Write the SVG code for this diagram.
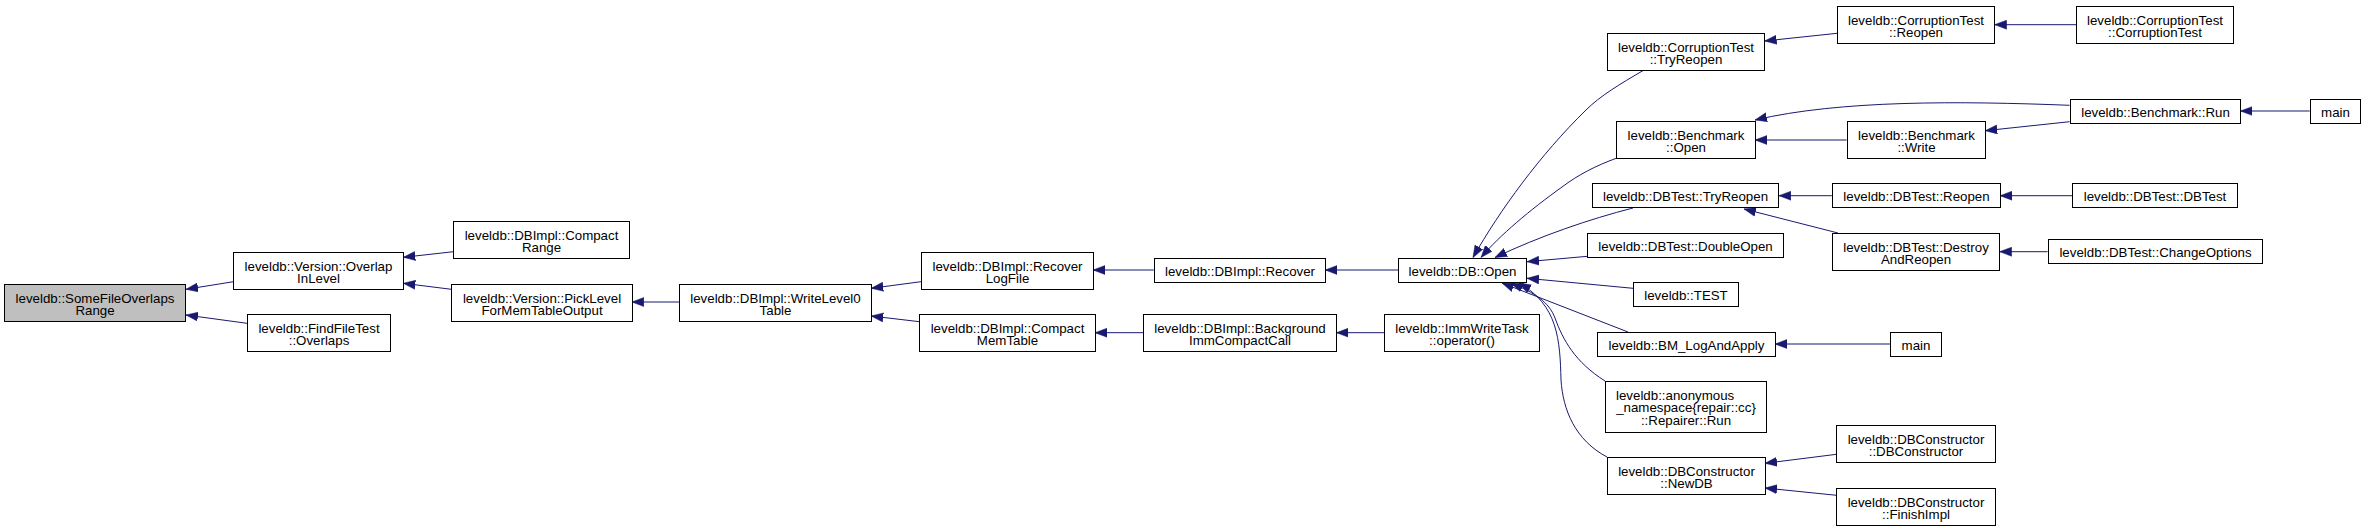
<svg xmlns="http://www.w3.org/2000/svg" width="2366" height="531" viewBox="0 0 2366 531">
<style>
.node rect{fill:#ffffff;stroke:#000000;stroke-width:1}
.node.hl rect{fill:#bfbfbf}
.node text{font-family:"Liberation Sans",Arial,Helvetica,sans-serif;font-size:13.3px;fill:#000000;text-anchor:middle}
.edges path{fill:none;stroke:#191970;stroke-width:1;marker-end:url(#ah)}
</style>
<defs>
<marker id="ah" viewBox="0 0 12 10" refX="12" refY="5" markerWidth="12" markerHeight="10" markerUnits="userSpaceOnUse" orient="auto">
<path d="M0,0.5 L12,5 L0,9.5 Z" fill="#191970" stroke="#191970" stroke-width="0.5"/>
</marker>
</defs>
<rect x="0" y="0" width="2366" height="531" fill="#ffffff"/>
<g id="edges" class="edges">
<path d="M233.5,281.7 L186,289.3"/>
<path d="M247,323.3 L186,315"/>
<path d="M453.5,251.7 L403.3,257.3"/>
<path d="M451.4,289.3 L403.3,283.3"/>
<path d="M679.3,302 L631.8,302"/>
<path d="M921,281.7 L871.2,288.3"/>
<path d="M919.5,321.7 L871.2,316"/>
<path d="M1153.8,270 L1093.1,270"/>
<path d="M1143,332.7 L1095,332.7"/>
<path d="M1398,270 L1325.2,270"/>
<path d="M1384,332.7 L1336.4,332.7"/>
<path d="M1644,70 C1620,84 1600,96 1586,110 C1540,155 1500,210 1473,257.5"/>
<path d="M1617,158 C1595,166 1578,175 1562,187 C1530,210 1500,235 1481,257.5"/>
<path d="M1633,208 C1590,219 1540,236 1495,257.5"/>
<path d="M1587.5,256.3 L1527,261.7"/>
<path d="M1633,288.3 L1527,278.3"/>
<path d="M1628,332 L1502,283"/>
<path d="M1605,381 C1575,362 1563,340 1555,318 C1549,302 1535,293 1511,283"/>
<path d="M1607,457 C1575,440 1563,410 1561,380 C1560,340 1558,305 1519,283"/>
<path d="M1837,33.3 L1764.6,41"/>
<path d="M2076,24.7 L1994.6,24.7"/>
<path d="M2069.6,105.3 C1960,101 1840,100 1755,120"/>
<path d="M2069.6,121.7 L1985.2,130.7"/>
<path d="M1846.6,140 L1755,140"/>
<path d="M2309.7,111 L2240.4,111"/>
<path d="M1831.8,195.7 L1778.9,195.7"/>
<path d="M1838,233 L1744,209"/>
<path d="M2072.5,195.7 L2000,195.7"/>
<path d="M2047.6,251.7 L1999.6,251.7"/>
<path d="M1890,344 L1775,344"/>
<path d="M1836.5,454.3 L1765,463.3"/>
<path d="M1836.5,495.3 L1765,488"/>
</g>
<g id="n1" class="node hl"><rect x="4.5" y="284.5" width="181" height="37"/><text x="95" y="302.5">leveldb::SomeFileOverlaps</text><text x="95" y="315">Range</text></g>
<g id="n2" class="node"><rect x="233.5" y="252.5" width="170" height="37"/><text x="318.5" y="270.5">leveldb::Version::Overlap</text><text x="318.5" y="283">InLevel</text></g>
<g id="n3" class="node"><rect x="247.5" y="314.5" width="143" height="37"/><text x="319" y="332.5">leveldb::FindFileTest</text><text x="319" y="345">::Overlaps</text></g>
<g id="n4" class="node"><rect x="453.5" y="221.5" width="176" height="37"/><text x="541.5" y="239.5">leveldb::DBImpl::Compact</text><text x="541.5" y="252">Range</text></g>
<g id="n5" class="node"><rect x="451.5" y="284.5" width="181" height="37"/><text x="542" y="302.5">leveldb::Version::PickLevel</text><text x="542" y="315">ForMemTableOutput</text></g>
<g id="n6" class="node"><rect x="679.5" y="284.5" width="192" height="37"/><text x="775.5" y="302.5">leveldb::DBImpl::WriteLevel0</text><text x="775.5" y="315">Table</text></g>
<g id="n7" class="node"><rect x="921.5" y="252.5" width="172" height="37"/><text x="1007.5" y="270.5">leveldb::DBImpl::Recover</text><text x="1007.5" y="283">LogFile</text></g>
<g id="n8" class="node"><rect x="919.5" y="314.5" width="176" height="37"/><text x="1007.5" y="332.5">leveldb::DBImpl::Compact</text><text x="1007.5" y="345">MemTable</text></g>
<g id="n9" class="node"><rect x="1154.5" y="258.5" width="171" height="24"/><text x="1240" y="275.5">leveldb::DBImpl::Recover</text></g>
<g id="n10" class="node"><rect x="1143.5" y="314.5" width="193" height="37"/><text x="1240" y="332.5">leveldb::DBImpl::Background</text><text x="1240" y="345">ImmCompactCall</text></g>
<g id="n11" class="node"><rect x="1398.5" y="258.5" width="128" height="24"/><text x="1462.5" y="275.5">leveldb::DB::Open</text></g>
<g id="n12" class="node"><rect x="1384.5" y="314.5" width="155" height="37"/><text x="1462" y="332.5">leveldb::ImmWriteTask</text><text x="1462" y="345">::operator()</text></g>
<g id="n13" class="node"><rect x="1607.5" y="33.5" width="157" height="37"/><text x="1686" y="51.5">leveldb::CorruptionTest</text><text x="1686" y="64">::TryReopen</text></g>
<g id="n14" class="node"><rect x="1616.5" y="121.5" width="139" height="37"/><text x="1686" y="139.5">leveldb::Benchmark</text><text x="1686" y="152">::Open</text></g>
<g id="n15" class="node"><rect x="1592.5" y="183.5" width="186" height="24"/><text x="1685.5" y="200.5">leveldb::DBTest::TryReopen</text></g>
<g id="n16" class="node"><rect x="1587.5" y="233.5" width="196" height="24"/><text x="1685.5" y="250.5">leveldb::DBTest::DoubleOpen</text></g>
<g id="n17" class="node"><rect x="1633.5" y="282.5" width="105" height="24"/><text x="1686" y="299.5">leveldb::TEST</text></g>
<g id="n18" class="node"><rect x="1597.5" y="332.5" width="178" height="24"/><text x="1686.5" y="349.5">leveldb::BM_LogAndApply</text></g>
<g id="n19" class="node"><rect x="1605.5" y="381.5" width="161" height="51"/><text x="1616" y="399.5" style="text-anchor:start">leveldb::anonymous</text><text x="1686" y="412">_namespace{repair::cc}</text><text x="1686" y="424.5">::Repairer::Run</text></g>
<g id="n20" class="node"><rect x="1607.5" y="457.5" width="158" height="37"/><text x="1686.5" y="475.5">leveldb::DBConstructor</text><text x="1686.5" y="488">::NewDB</text></g>
<g id="n21" class="node"><rect x="1837.5" y="6.5" width="157" height="37"/><text x="1916" y="24.5">leveldb::CorruptionTest</text><text x="1916" y="37">::Reopen</text></g>
<g id="n22" class="node"><rect x="2076.5" y="6.5" width="157" height="37"/><text x="2155" y="24.5">leveldb::CorruptionTest</text><text x="2155" y="37">::CorruptionTest</text></g>
<g id="n23" class="node"><rect x="2070.5" y="99.5" width="170" height="24"/><text x="2155.5" y="116.5">leveldb::Benchmark::Run</text></g>
<g id="n24" class="node"><rect x="2310.5" y="99.5" width="50" height="24"/><text x="2335.5" y="116.5">main</text></g>
<g id="n25" class="node"><rect x="1847.5" y="121.5" width="138" height="37"/><text x="1916.5" y="139.5">leveldb::Benchmark</text><text x="1916.5" y="152">::Write</text></g>
<g id="n26" class="node"><rect x="1832.5" y="183.5" width="168" height="24"/><text x="1916.5" y="200.5">leveldb::DBTest::Reopen</text></g>
<g id="n27" class="node"><rect x="2072.5" y="183.5" width="165" height="24"/><text x="2155" y="200.5">leveldb::DBTest::DBTest</text></g>
<g id="n28" class="node"><rect x="1832.5" y="233.5" width="167" height="37"/><text x="1916" y="251.5">leveldb::DBTest::Destroy</text><text x="1916" y="264">AndReopen</text></g>
<g id="n29" class="node"><rect x="2048.5" y="239.5" width="214" height="24"/><text x="2155.5" y="256.5">leveldb::DBTest::ChangeOptions</text></g>
<g id="n30" class="node"><rect x="1890.5" y="332.5" width="51" height="24"/><text x="1916" y="349.5">main</text></g>
<g id="n31" class="node"><rect x="1836.5" y="425.5" width="159" height="37"/><text x="1916" y="443.5">leveldb::DBConstructor</text><text x="1916" y="456">::DBConstructor</text></g>
<g id="n32" class="node"><rect x="1836.5" y="488.5" width="159" height="37"/><text x="1916" y="506.5">leveldb::DBConstructor</text><text x="1916" y="519">::FinishImpl</text></g>
</svg>
